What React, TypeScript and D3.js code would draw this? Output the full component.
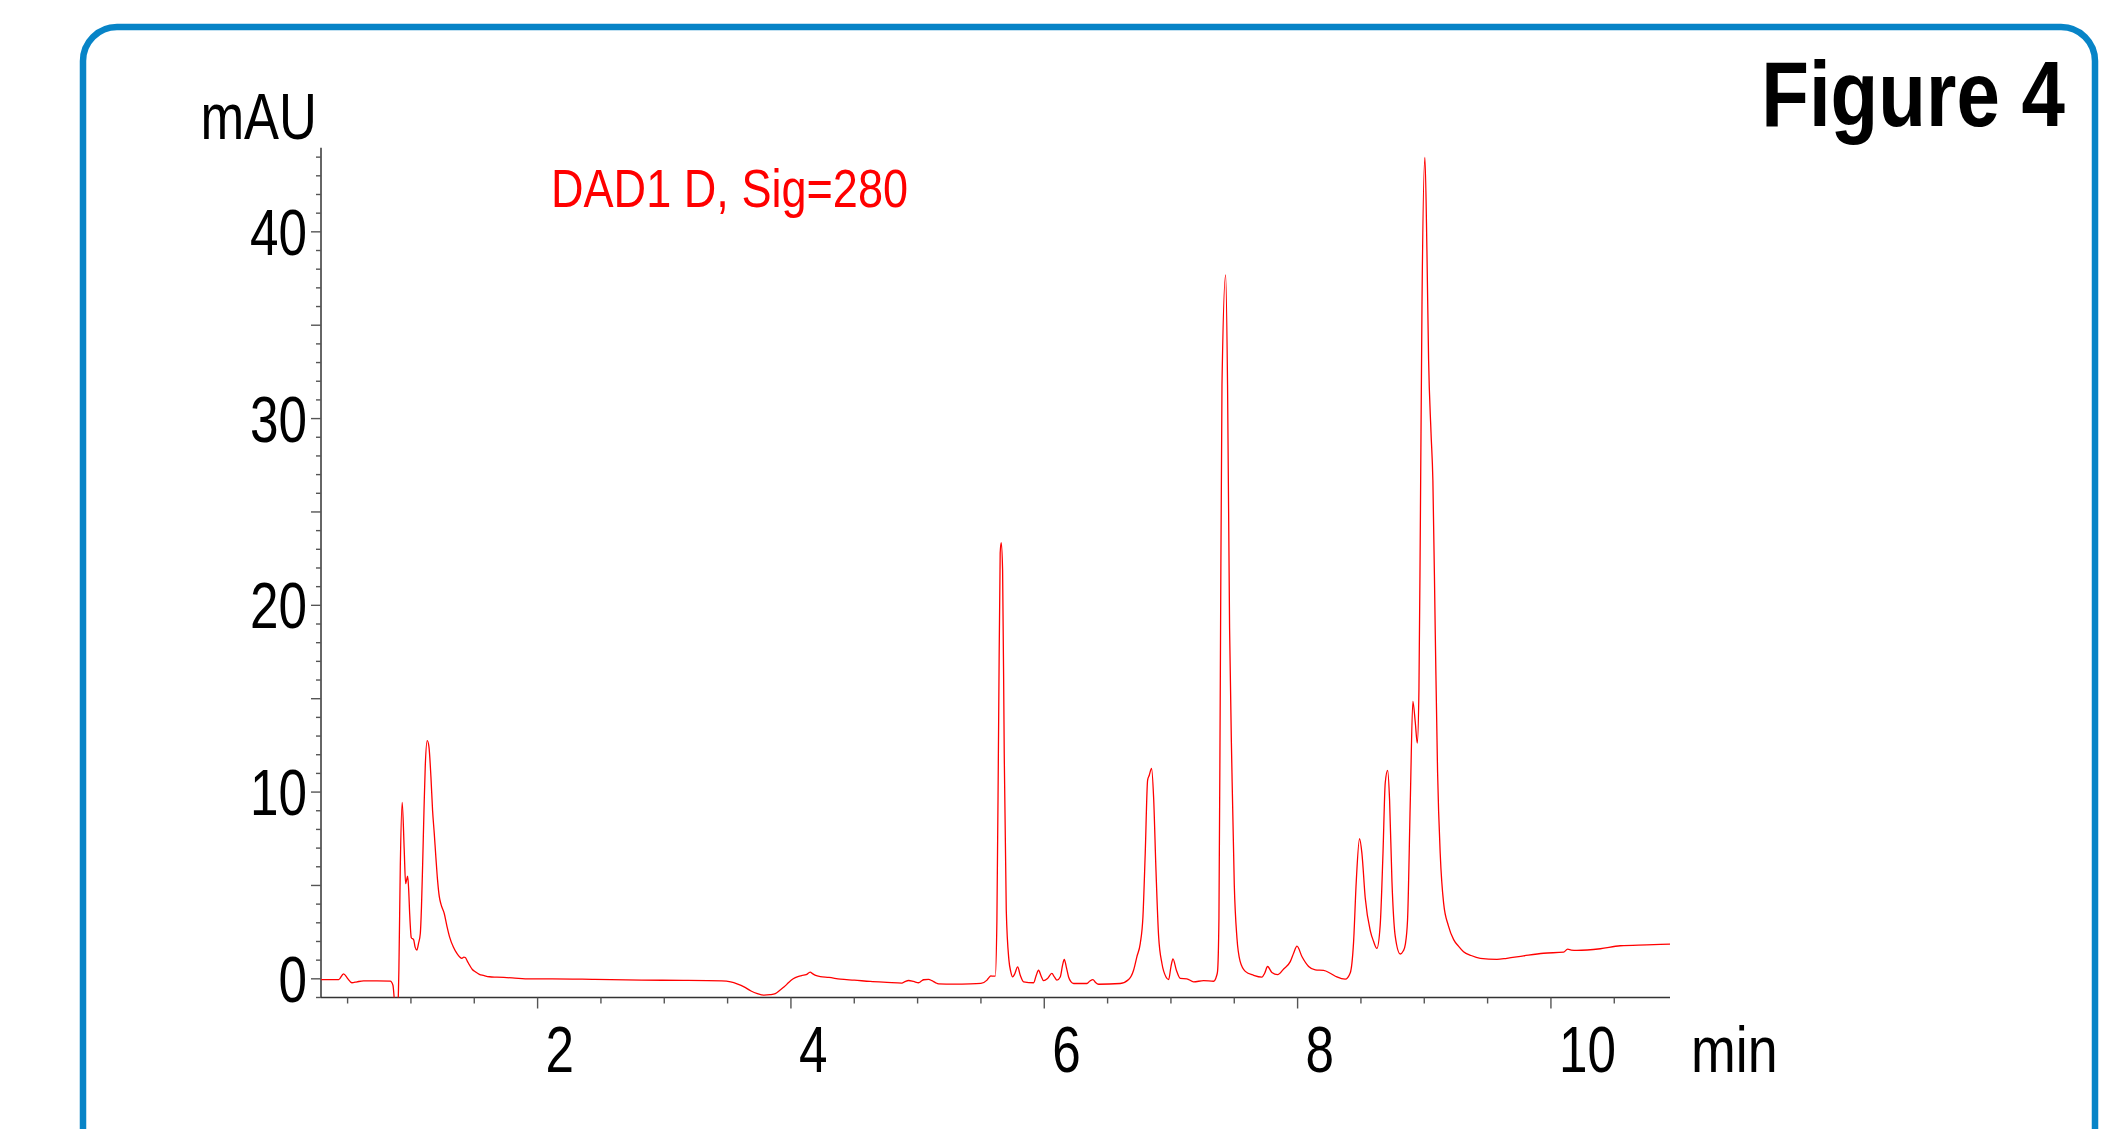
import React from "react";
import * as d3 from "d3";

// retention time (min) and absorbance (mAU)
const retentionTimes = [
  0.289, 0.43, 0.468, 0.5, 0.534, 0.574, 0.626, 0.732, 0.837, 0.858, 0.87, 0.88, 0.896, 0.905,
  0.916, 0.931, 0.947, 0.958, 0.966, 0.974, 0.982, 0.99, 1.003, 1.021, 1.033, 1.047, 1.06, 1.074,
  1.083, 1.092, 1.103, 1.113, 1.129, 1.142, 1.158, 1.171, 1.184, 1.197, 1.21, 1.224, 1.237, 1.263,
  1.285, 1.305, 1.335, 1.363, 1.402, 1.418, 1.429, 1.445, 1.463, 1.485, 1.508, 1.54, 1.573, 1.62,
  1.679, 1.8, 1.942, 2.114, 2.45, 2.818, 3.15, 3.453, 3.524, 3.58, 3.63, 3.685, 3.735, 3.788,
  3.835, 3.877, 3.915, 3.947, 3.982, 4.018, 4.055, 4.088, 4.12, 4.152, 4.17, 4.19, 4.232, 4.3,
  4.39, 4.5, 4.626, 4.758, 4.876, 4.9, 4.929, 4.968, 5.008, 5.03, 5.047, 5.087, 5.113, 5.14,
  5.166, 5.284, 5.416, 5.5, 5.548, 5.565, 5.579, 5.595, 5.613, 5.626, 5.64, 5.652, 5.66, 5.671,
  5.684, 5.7, 5.721, 5.735, 5.75, 5.766, 5.79, 5.81, 5.837, 5.916, 5.935, 5.955, 5.975, 5.995,
  6.026, 6.06, 6.08, 6.1, 6.126, 6.145, 6.158, 6.175, 6.192, 6.21, 6.232, 6.337, 6.36, 6.384,
  6.405, 6.429, 6.6, 6.666, 6.705, 6.731, 6.758, 6.779, 6.797, 6.816, 6.829, 6.847, 6.863, 6.882,
  6.903, 6.929, 6.961, 6.982, 7.0, 7.016, 7.043, 7.074, 7.126, 7.179, 7.258, 7.337, 7.36, 7.368,
  7.379, 7.39, 7.403, 7.432, 7.447, 7.463, 7.482, 7.5, 7.521, 7.547, 7.587, 7.653, 7.719, 7.74,
  7.763, 7.797, 7.842, 7.89, 7.942, 7.97, 7.995, 8.035, 8.087, 8.14, 8.205, 8.258, 8.31, 8.376,
  8.416, 8.442, 8.463, 8.489, 8.508, 8.534, 8.574, 8.6, 8.626, 8.652, 8.674, 8.692, 8.711, 8.726,
  8.745, 8.771, 8.81, 8.835, 8.85, 8.868, 8.89, 8.91, 8.929, 8.945, 8.958, 8.969, 8.982, 9.005,
  9.021, 9.034, 9.053, 9.068, 9.087, 9.105, 9.126, 9.153, 9.19, 9.232, 9.27, 9.31, 9.37, 9.442,
  9.574, 9.652, 9.784, 9.942, 10.1, 10.132, 10.16, 10.205, 10.39, 10.547, 10.758, 10.942,
];

const absorbance = [
  -0.04, -0.04, 0.27, 0.02, -0.21, -0.16, -0.11, -0.11, -0.12, -0.34, -1.2, -1.8, -1.6, 0.5,
  6.0, 9.45, 6.9, 5.1, 5.3, 5.5, 4.8, 3.5, 2.2, 2.1, 1.7, 1.54, 1.9, 2.43,
  3.8, 6.0, 9.0, 11.36, 12.75, 12.43, 10.8, 9.0, 7.8, 6.5, 5.3, 4.4, 4.0, 3.5,
  2.8, 2.25, 1.7, 1.36, 1.1, 1.16, 1.14, 0.95, 0.73, 0.5, 0.375, 0.24, 0.18, 0.11,
  0.09, 0.05, 0.0, 0.0, -0.03, -0.07, -0.08, -0.11, -0.16, -0.28, -0.43, -0.65, -0.79, -0.875,
  -0.85, -0.79, -0.6, -0.43, -0.2, 0.0, 0.12, 0.18, 0.22, 0.36, 0.28, 0.2, 0.12, 0.08,
  -0.02, -0.07, -0.14, -0.19, -0.23, -0.15, -0.09, -0.14, -0.21, -0.12, -0.05, -0.03, -0.1, -0.2,
  -0.27, -0.28, -0.27, -0.24, -0.07, 0.08, 0.16, 0.14, 0.14, 3.1, 13.9, 22.8, 23.36, 21.9,
  12.07, 3.68, 1.0, 0.4, 0.1, 0.25, 0.64, 0.2, -0.16, -0.21, 0.15, 0.46, 0.15, -0.1,
  0.02, 0.29, 0.1, -0.07, 0.1, 0.75, 1.04, 0.6, 0.1, -0.15, -0.25, -0.25, -0.12, -0.04,
  -0.2, -0.29, -0.25, -0.04, 0.46, 1.18, 1.9, 3.32, 6.7, 10.64, 10.9, 11.27, 9.75, 5.8,
  2.25, 0.82, 0.1, -0.04, 0.64, 1.07, 0.46, 0.02, 0.0, -0.16, -0.1, -0.13, 0.15, 0.4,
  3.25, 16.2, 31.8, 37.7, 31.8, 18.8, 11.0, 5.07, 2.2, 0.92, 0.4, 0.19, 0.09, 0.3,
  0.66, 0.34, 0.22, 0.53, 0.92, 1.4, 1.75, 1.18, 0.66, 0.48, 0.45, 0.3, 0.1, -0.02,
  0.33, 1.98, 5.2, 7.5, 6.7, 4.33, 2.57, 2.0, 1.63, 2.86, 6.7, 10.5, 11.16, 9.6,
  5.2, 2.27, 1.33, 1.5, 1.83, 3.15, 9.6, 14.86, 13.74, 12.62, 15.5, 24.3, 36.1, 43.98,
  39.0, 33.2, 29.3, 26.7, 18.45, 11.1, 6.7, 4.04, 2.85, 2.1, 1.75, 1.45, 1.25, 1.1,
  1.04, 1.1, 1.23, 1.37, 1.43, 1.59, 1.54, 1.52, 1.61, 1.77, 1.82, 1.86,
];

const xTickLabels = [2, 4, 6, 8, 10];
const yTickLabels = [0, 10, 20, 30, 40];
const signalLabel = "DAD1 D, Sig=280";
const figureTitle = "Figure 4";

const W = 2104;
const H = 1129;
const font = "'Liberation Sans', Arial, sans-serif";

// no narrow font installed, so squeeze a regular one horizontally
function Narrow({ x, y, sx = 0.81, anchor = "start", size = 64, bold = false, fill = "#000", children }: any) {
  return (
    <g transform={`translate(${x},${y}) scale(${sx},1)`}>
      <text x={0} y={0} textAnchor={anchor} fontFamily={font} fontSize={size} fontWeight={bold ? "bold" : "normal"} fill={fill}>
        {children}
      </text>
    </g>
  );
}

export default function App() {
  const x = d3.scaleLinear().domain([0.29, 10.94]).range([321, 1670]);
  const y = d3.scaleLinear().domain([-1.0, 44.5]).range([997.5, 147.8]);

  const points = retentionTimes.map((t, i) => [t, absorbance[i]] as [number, number]);
  const line = d3
    .line<[number, number]>()
    .x((d) => x(d[0]))
    .y((d) => y(d[1]))
    .curve(d3.curveMonotoneX);

  const [x0, x1] = x.range();
  const [y0, y1] = y.range();

  const yMinor = d3.range(-1, 45, 1);
  const xMinor = d3.range(0.5, 10.95, 0.5);

  return (
    <svg
      width={W}
      height={H}
      style={{ position: "absolute", left: 0, top: 0, background: "#fff" }}
    >
      <defs>
        <clipPath id="plot">
          <rect x={x0} y={y1} width={x1 - x0} height={y0 - y1} />
        </clipPath>
      </defs>

      {/* blue frame, bottom runs off the page */}
      <rect x={83} y={27} width={2012} height={1200} rx={34} fill="none" stroke="#0784c7" strokeWidth={6.5} />

      <Narrow x={2065} y={126} anchor="end" size={93} bold sx={0.84}>
        {figureTitle}
      </Narrow>

      {/* y axis */}
      <line x1={x0} x2={x0} y1={y1} y2={y0} stroke="#333" strokeWidth={1.5} />
      {yMinor.map((v) => {
        const len = v % 5 === 0 ? 10 : 5;
        return <line key={"yt" + v} x1={x0 - len} x2={x0} y1={y(v)} y2={y(v)} stroke="#555" strokeWidth={1.4} />;
      })}
      {yTickLabels.map((v) => (
        <Narrow key={"yl" + v} x={x0 - 14} y={y(v) + 23} anchor="end" sx={0.8}>
          {v}
        </Narrow>
      ))}
      <Narrow x={317} y={139} anchor="end" sx={0.82}>
        mAU
      </Narrow>

      {/* x axis */}
      <line x1={x0} x2={x1} y1={y0} y2={y0} stroke="#333" strokeWidth={1.5} />
      {xMinor.map((v) => {
        const len = v % 2 === 0 ? 11 : 6;
        return <line key={"xt" + v} x1={x(v)} x2={x(v)} y1={y0} y2={y0 + len} stroke="#555" strokeWidth={1.4} />;
      })}
      {xTickLabels.map((v) => (
        <Narrow key={"xl" + v} x={x(v) + 8} y={1072} sx={0.8}>
          {v}
        </Narrow>
      ))}
      <Narrow x={1691} y={1072} sx={0.84}>
        min
      </Narrow>

      <Narrow x={551} y={207} size={54} sx={0.835} fill="#ff0000">
        {signalLabel}
      </Narrow>

      <path d={line(points) ?? ""} fill="none" stroke="#ff0000" strokeWidth={1.3} clipPath="url(#plot)" />
    </svg>
  );
}
